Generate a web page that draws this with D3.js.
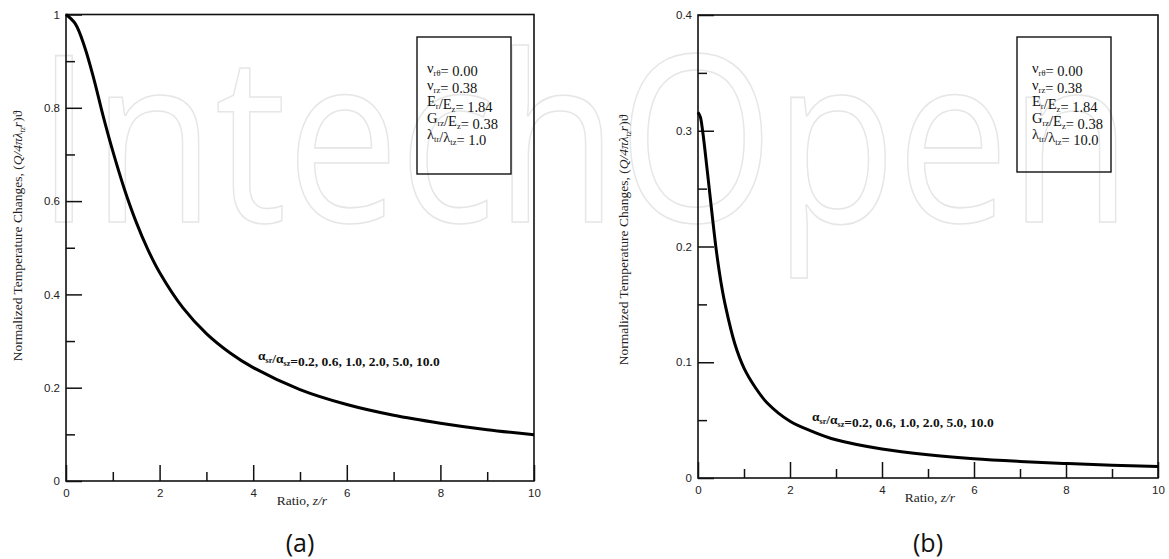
<!DOCTYPE html>
<html lang="en">
<head>
<meta charset="UTF-8">
<title>Normalized Temperature Changes</title>
<style>
  body { margin: 0; background: #fff; }
  svg text { font-family: "Liberation Serif", "Times New Roman", serif; }
  .tick text { font-family: "Liberation Sans", Arial, sans-serif; font-size: 11.5px; fill: #222; }
</style>
</head>
<body>
<div id="container"></div>
<script src="https://cdn.jsdelivr.net/npm/d3@7/dist/d3.min.js"></script>
<script>
// values
var ratioA = [0, 0.2, 0.4, 0.6, 0.8, 1.0, 1.25, 1.5, 1.75, 2, 2.5, 3, 3.5, 4, 5, 6, 7, 8, 9, 10];
var tempA  = [1.0, 0.98, 0.93, 0.86, 0.78, 0.707, 0.625, 0.555, 0.496, 0.447, 0.371, 0.316, 0.275, 0.243, 0.196, 0.164, 0.141, 0.124, 0.11, 0.099];

var ratioB = [0, 0.05, 0.1, 0.2, 0.3, 0.4, 0.5, 0.6, 0.8, 1.0, 1.25, 1.5, 2, 2.5, 3, 4, 5, 6, 7, 8, 9, 10];
var tempB  = [0.316, 0.312, 0.30, 0.266, 0.23, 0.196, 0.169, 0.148, 0.116, 0.095, 0.078, 0.065, 0.049, 0.04, 0.033, 0.025, 0.020, 0.0166, 0.0143, 0.0125, 0.011, 0.010];

var xTicks  = [0, 2, 4, 6, 8, 10];
var xMinor  = [1, 3, 5, 7, 9];
var yTicksA = [0, 0.2, 0.4, 0.6, 0.8, 1];
var yMinorA = [0.1, 0.3, 0.5, 0.7, 0.9];
var yTicksB = [0, 0.1, 0.2, 0.3, 0.4];
var yMinorB = [0.05, 0.15, 0.25, 0.35];

// legend rows: [base, subscript] pieces, then the value
var propLabels = [
    [["ν", "rθ"]],
    [["ν", "rz"]],
    [["E", "r"], ["/E", "z"]],
    [["G", "rz"], ["/E", "z"]],
    [["λ", "tr"], ["/λ", "tz"]]
];
var propValuesA = ["0.00", "0.38", "1.84", "0.38", "1.0"];
var propValuesB = ["0.00", "0.38", "1.84", "0.38", "10.0"];
var alphaRatios = ["0.2", "0.6", "1.0", "2.0", "5.0", "10.0"];

var svg = d3.select("#container")
    .append("svg")
    .attr("width", 1169)
    .attr("height", 559);

// faint publisher watermark behind everything
svg.append("text")
    .attr("x", 36)
    .attr("y", 222)
    .attr("textLength", 1096)
    .attr("lengthAdjust", "spacingAndGlyphs")
    .style("font-family", "'Open Sans', sans-serif")
    .style("font-size", "232px")
    .attr("fill", "none")
    .attr("stroke", "#e6e6e6")
    .attr("stroke-width", 1.6)
    .text("IntechOpen");

function addSub(textSel, pieces, size, subSize) {
    pieces.forEach(function(p) {
        textSel.append("tspan").style("font-size", size + "px").text(p[0]);
        if (p[1]) {
            textSel.append("tspan").attr("dy", 3).style("font-size", subSize + "px").text(p[1]);
            textSel.append("tspan").attr("dy", -3).style("font-size", size + "px").text("");
        }
    });
}

function drawPanel(cfg) {
    var x = d3.scaleLinear().domain([0, 10]).range([cfg.left, cfg.right]);
    var y = d3.scaleLinear().domain(cfg.yDomain).range([cfg.bottom, cfg.top]);
    var g = svg.append("g");

    // minor ticks
    g.append("g")
        .attr("transform", "translate(0," + cfg.bottom + ")")
        .call(d3.axisBottom(x).tickValues(xMinor).tickSize(-9).tickFormat(""))
        .call(function(a) { a.select(".domain").remove(); });
    g.append("g")
        .attr("transform", "translate(" + cfg.left + ",0)")
        .call(d3.axisLeft(y).tickValues(cfg.yMinor).tickSize(-9).tickFormat(""))
        .call(function(a) { a.select(".domain").remove(); });

    // major ticks with labels
    g.append("g")
        .attr("transform", "translate(0," + cfg.bottom + ")")
        .call(d3.axisBottom(x).tickValues(xTicks).tickSize(-16).tickPadding(8).tickFormat(d3.format("")))
        .call(function(a) { a.select(".domain").remove(); });
    g.append("g")
        .attr("transform", "translate(" + cfg.left + ",0)")
        .call(d3.axisLeft(y).tickValues(cfg.yTicks).tickSize(-16).tickPadding(6).tickFormat(d3.format("")))
        .call(function(a) { a.select(".domain").remove(); });

    g.selectAll(".tick line").attr("stroke", "#111").attr("stroke-width", 1.5);

    // frame
    g.append("rect")
        .attr("x", cfg.left).attr("y", cfg.top)
        .attr("width", cfg.right - cfg.left).attr("height", cfg.bottom - cfg.top)
        .attr("fill", "none").attr("stroke", "#111").attr("stroke-width", 1.6);

    // curve
    var line = d3.line()
        .x(function(d) { return x(d[0]); })
        .y(function(d) { return y(d[1]); })
        .curve(d3.curveCatmullRom.alpha(0.5));
    g.append("path")
        .datum(d3.zip(cfg.ratio, cfg.temp))
        .attr("d", line)
        .attr("fill", "none")
        .attr("stroke", "#000")
        .attr("stroke-width", 3);

    // property box
    g.append("rect")
        .attr("x", cfg.box[0]).attr("y", cfg.box[1])
        .attr("width", cfg.box[2]).attr("height", cfg.box[3])
        .attr("fill", "none").attr("stroke", "#111").attr("stroke-width", 1.4);
    propLabels.forEach(function(lab, i) {
        var t = g.append("text")
            .attr("x", cfg.textX)
            .attr("y", cfg.box[1] + 36 + i * 16.5)
            .attr("fill", "#111");
        addSub(t, lab, 14.5, 8.5);
        t.append("tspan").style("font-size", "14.5px").text("= " + cfg.values[i]);
    });

    // alpha annotation
    var ann = g.append("text")
        .attr("x", cfg.ann[0]).attr("y", cfg.ann[1])
        .style("font-weight", "bold").attr("fill", "#111");
    addSub(ann, [["α", "sr"], ["/α", "sz"]], 13.5, 8);
    ann.append("tspan").style("font-size", "13.5px").text("=" + alphaRatios.join(", "));

    // y label
    var yl = g.append("text")
        .attr("transform", "translate(" + cfg.yLabel[0] + "," + cfg.yLabel[1] + ") rotate(-90)")
        .attr("text-anchor", "middle")
        .style("font-size", "13.5px")
        .attr("fill", "#222");
    yl.append("tspan").text("Normalized  Temperature Changes, (");
    yl.append("tspan").style("font-style", "italic").text("Q/4πλ");
    yl.append("tspan").attr("dy", 3).style("font-size", "8px").style("font-style", "italic").text("tz");
    yl.append("tspan").attr("dy", -3).style("font-style", "italic").text("r");
    yl.append("tspan").text(")ϑ");

    // x label
    var xl = g.append("text")
        .attr("x", (cfg.left + cfg.right) / 2 + 2)
        .attr("y", cfg.bottom + 24)
        .attr("text-anchor", "middle")
        .style("font-size", "13.5px")
        .attr("fill", "#222");
    xl.append("tspan").text("Ratio, ");
    xl.append("tspan").style("font-style", "italic").text("z/r");

    // caption
    g.append("text")
        .attr("x", (cfg.left + cfg.right) / 2)
        .attr("y", 552)
        .attr("text-anchor", "middle")
        .style("font-family", "'Open Sans', 'Noto Sans', sans-serif")
        .style("font-size", "25px")
        .attr("fill", "#111")
        .text(cfg.caption);
}

drawPanel({
    left: 66, right: 534, top: 14.5, bottom: 481,
    yDomain: [0, 1], yTicks: yTicksA, yMinor: yMinorA,
    ratio: ratioA, temp: tempA,
    box: [417, 37, 94, 137], textX: 427, values: propValuesA,
    ann: [258, 360], yLabel: [22, 236], caption: "(a)"
});

drawPanel({
    left: 698, right: 1158, top: 15, bottom: 478,
    yDomain: [0, 0.4], yTicks: yTicksB, yMinor: yMinorB,
    ratio: ratioB, temp: tempB,
    box: [1017, 37, 94, 135], textX: 1032, values: propValuesB,
    ann: [812, 421], yLabel: [628, 240], caption: "(b)"
});
</script>
</body>
</html>
